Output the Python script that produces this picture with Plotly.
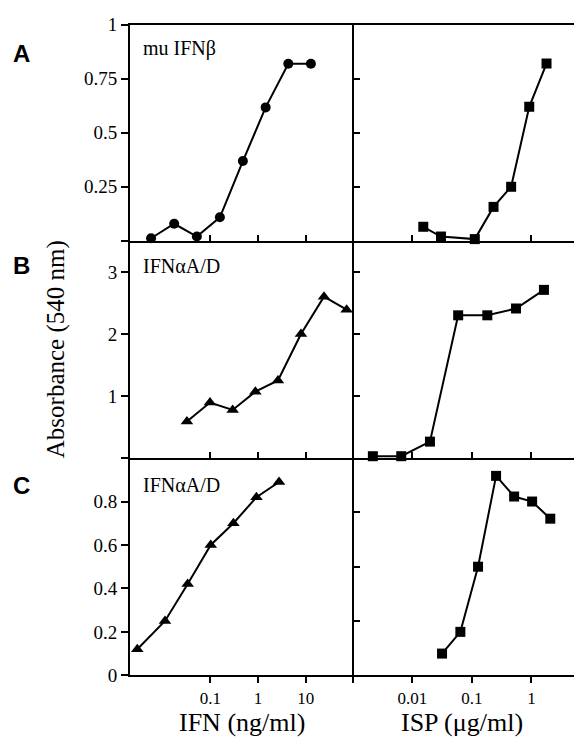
import plotly.graph_objects as go

# ---------------- data ----------------
# Panel A
a_ifn_x = [0.0057, 0.0174, 0.052, 0.158, 0.48, 1.44, 4.3, 12.8]
a_ifn_y = [0.012, 0.079, 0.02, 0.109, 0.369, 0.617, 0.819, 0.819]
a_isp_x = [0.0153, 0.0303, 0.112, 0.231, 0.456, 0.918, 1.79]
a_isp_y = [0.065, 0.02, 0.008, 0.157, 0.25, 0.62, 0.82]
# Panel B
b_ifn_x = [0.0322, 0.098, 0.293, 0.877, 2.61, 7.93, 24.1, 71.9]
b_ifn_y = [0.59, 0.895, 0.775, 1.07, 1.25, 2.0, 2.6, 2.39]
b_isp_x = [0.00218, 0.00653, 0.0198, 0.0589, 0.1816, 0.551, 1.62]
b_isp_y = [0.03, 0.03, 0.265, 2.30, 2.30, 2.41, 2.71]
# Panel C
c_ifn_x = [0.00293, 0.01117, 0.0334, 0.1016, 0.304, 0.925, 2.75]
c_ifn_y = [0.12, 0.25, 0.42, 0.60, 0.70, 0.82, 0.89]
c_isp_x = [0.0316, 0.0641, 0.127, 0.255, 0.512, 1.026, 2.07]
c_isp_y = [0.10, 0.20, 0.50, 0.918, 0.823, 0.80, 0.721]

panel_labels = ["A", "B", "C"]
panel_names = ["mu IFNβ", "IFNαA/D", "IFNαA/D"]
left_x_ticks = [0.1, 1, 10, 100]
left_x_ticktext = ["0.1", "1", "10", ""]
right_x_ticks = [0.01, 0.1, 1]
right_x_ticktext = ["0.01", "0.1", "1"]
a_yticks = [0, 0.25, 0.5, 0.75, 1]
a_ytext = ["", "0.25", "0.5", "0.75", "1"]
b_yticks = [0, 1, 2, 3]
b_ytext = ["", "1", "2", "3"]
c_yticks = [0, 0.2, 0.4, 0.6, 0.8]
c_ytext = ["0", "0.2", "0.4", "0.6", "0.8"]
right_a_yticks = [0.25, 0.5, 0.75]
right_b_yticks = [1, 2, 3]
right_c_yticks = [0.25, 0.5, 0.75]

# ---------------- layout geometry ----------------
W, H = 574, 749
SERIF = "Liberation Serif"
SANS = "Liberation Sans"

xl_dom = [130 / W, 354 / W]
xr_dom = [354 / W, 1.0]
rows_px = [(15, 237.5), (237.5, 461), (461, 684.5)]
y_doms = [[(H - b) / H, (H - t) / H] for (t, b) in rows_px]

xl_range = [-2.686, 2.011]
xr_range = [-2.978, 0.714]
y_ranges = [[0, 1], [0, 3.5], [0, 1]]

fig = go.Figure()

series = [
    (a_ifn_x, a_ifn_y, "circle", 10),
    (a_isp_x, a_isp_y, "square", 10),
    (b_ifn_x, b_ifn_y, "triangle-up", 11),
    (b_isp_x, b_isp_y, "square", 10),
    (c_ifn_x, c_ifn_y, "triangle-up", 11),
    (c_isp_x, c_isp_y, "square", 10),
]
for i, (xs, ys, sym, sz) in enumerate(series):
    idx = i + 1
    fig.add_trace(go.Scatter(
        x=xs, y=ys, mode="lines+markers",
        line=dict(color="black", width=2),
        marker=dict(symbol=sym, size=sz, color="black"),
        xaxis="x" if idx == 1 else f"x{idx}",
        yaxis="y" if idx == 1 else f"y{idx}",
        showlegend=False, cliponaxis=False, hoverinfo="skip",
    ))

ytickfont = dict(family=SERIF, size=19, color="black")
xtickfont = dict(family=SERIF, size=17, color="black")
LW = 2
layout = {}
ytick_sets = [(a_yticks, a_ytext, right_a_yticks),
              (b_yticks, b_ytext, right_b_yticks),
              (c_yticks, c_ytext, right_c_yticks)]
for row in range(3):
    li = 2 * row + 1
    ri = 2 * row + 2
    lname = "xaxis" if li == 1 else f"xaxis{li}"
    lyname = "yaxis" if li == 1 else f"yaxis{li}"
    rname = f"xaxis{ri}"
    ryname = f"yaxis{ri}"
    bottom = row == 2
    top = row == 0
    ly_anchor = "y" if li == 1 else f"y{li}"
    lx_anchor = "x" if li == 1 else f"x{li}"
    layout[lname] = dict(
        domain=xl_dom, anchor=ly_anchor, type="log", range=xl_range,
        showline=True, linecolor="black", linewidth=LW, mirror=top,
        showgrid=False, zeroline=False,
        tickvals=left_x_ticks, ticktext=left_x_ticktext,
        ticks="outside" if bottom else "inside", ticklen=6, tickwidth=1.5,
        tickcolor="black", showticklabels=bottom, tickfont=xtickfont,
    )
    yt, ytx, ryt = ytick_sets[row]
    layout[lyname] = dict(
        domain=y_doms[row], anchor=lx_anchor, range=y_ranges[row],
        showline=True, linecolor="black", linewidth=LW, mirror=False,
        showgrid=False, zeroline=False,
        tickvals=yt, ticktext=ytx, ticks="outside", ticklen=7,
        tickwidth=1.5, tickcolor="black", tickfont=ytickfont,
    )
    layout[rname] = dict(
        domain=xr_dom, anchor=f"y{ri}", type="log", range=xr_range,
        showline=True, linecolor="black", linewidth=LW, mirror=top,
        showgrid=False, zeroline=False,
        tickvals=right_x_ticks, ticktext=right_x_ticktext,
        ticks="outside" if bottom else "inside", ticklen=6, tickwidth=1.5,
        tickcolor="black", showticklabels=bottom, tickfont=xtickfont,
    )
    layout[ryname] = dict(
        domain=y_doms[row], anchor=f"x{ri}", range=y_ranges[row],
        showline=True, linecolor="black", linewidth=LW, mirror=False,
        showgrid=False, zeroline=False,
        tickvals=ryt, ticks="inside", ticklen=6, tickwidth=1.5,
        tickcolor="black", showticklabels=False,
    )

annotations = []
label_y_px = [45, 263, 489]
name_y_px = [40, 263, 489]
for row in range(3):
    annotations.append(dict(
        text=f"<b>{panel_labels[row]}</b>", x=21 / W, y=(H - label_y_px[row]) / H,
        xref="paper", yref="paper", showarrow=False, xanchor="center", yanchor="middle",
        font=dict(family=SANS, size=24, color="black")))
    annotations.append(dict(
        text=panel_names[row], x=141 / W, y=(H - name_y_px[row]) / H,
        xref="paper", yref="paper", showarrow=False, xanchor="left", yanchor="middle",
        font=dict(family=SERIF, size=20, color="black")))

annotations.append(dict(
    text="Absorbance (540 nm)", x=56 / W, y=(H - 349) / H, xref="paper", yref="paper",
    showarrow=False, textangle=-90, xanchor="center", yanchor="middle",
    font=dict(family=SERIF, size=25, color="black")))
annotations.append(dict(
    text="IFN (ng/ml)", x=241.7 / W, y=(H - 733) / H, xref="paper", yref="paper",
    showarrow=False, xanchor="center", yanchor="middle",
    font=dict(family=SERIF, size=26, color="black")))
annotations.append(dict(
    text="ISP (μg/ml)", x=462 / W, y=(H - 733) / H, xref="paper", yref="paper",
    showarrow=False, xanchor="center", yanchor="middle",
    font=dict(family=SERIF, size=26, color="black")))

fig.update_layout(
    width=W, height=H,
    margin=dict(l=0, r=0, t=0, b=0),
    paper_bgcolor="white", plot_bgcolor="white",
    annotations=annotations,
    hovermode=False,
    **layout,
)

fig.write_html("out.html", config={"displayModeBar": False},
               post_script="document.body.style.margin='0px';")
